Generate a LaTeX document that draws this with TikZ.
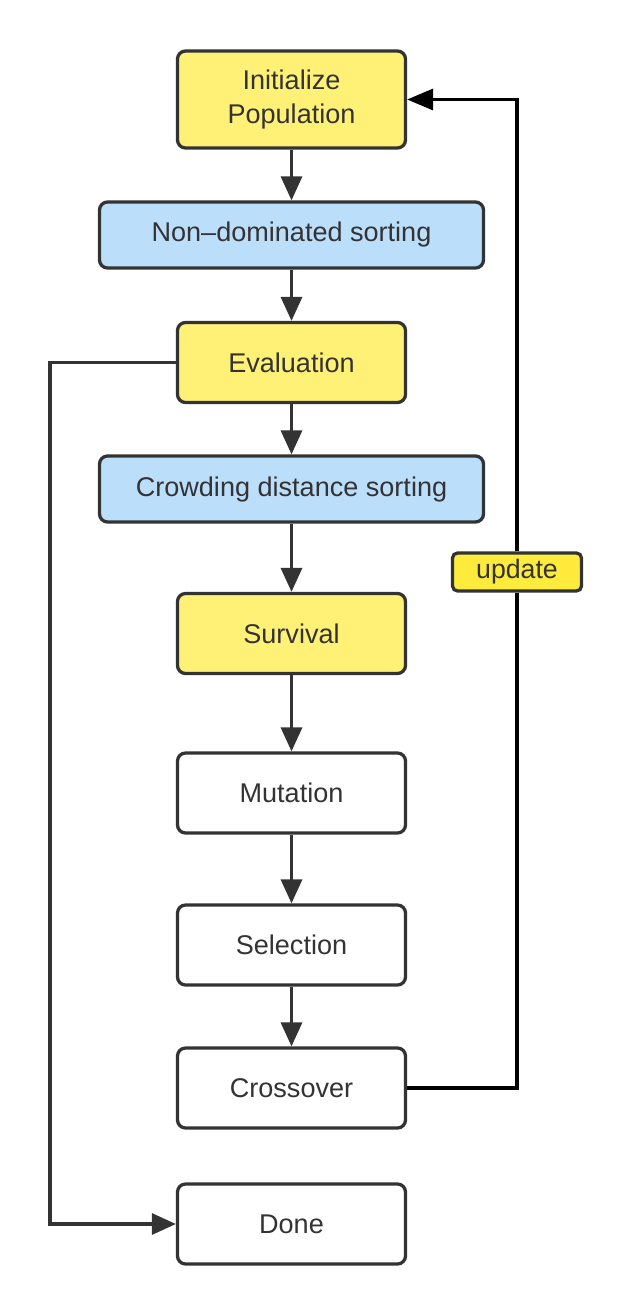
\documentclass[tikz,border=0pt]{standalone}
\usepackage{fontspec}
\setmainfont{Liberation Sans}
\usepackage{xcolor}
\usetikzlibrary{positioning,arrows.meta}

\definecolor{boxline}{HTML}{333333}
\definecolor{stepyellow}{HTML}{FFF176}
\definecolor{stepblue}{HTML}{BBDEFB}
\definecolor{tagyellow}{HTML}{FFEB3B}

\begin{document}
\begin{tikzpicture}[
  stage/.style={rectangle, draw=boxline, line width=0.065cm, rounded corners=0.16cm, align=center, text=boxline, font=\fontsize{15.4}{19}\selectfont, minimum width=4.56cm, minimum height=1.6cm, inner sep=0pt},
  widestage/.style={stage, minimum width=7.68cm, minimum height=1.32cm},
  tag/.style={rectangle, draw=boxline, line width=0.065cm, rounded corners=0.1cm, fill=tagyellow, text=boxline, font=\fontsize{15.2}{19}\selectfont, minimum width=2.58cm, minimum height=0.76cm, inner sep=0pt},
  arrow/.style={-{Triangle[length=0.48cm,width=0.42cm]}, draw=boxline, line width=0.065cm},
  loopline/.style={draw=black, line width=0.065cm},
  looparrow/.style={loopline, -{Triangle[length=0.52cm,width=0.42cm]}}
]
  \useasboundingbox (0,0) rectangle (12.68,-26.3);

  % Main flow
  \node[stage, fill=stepyellow, minimum height=1.94cm] (init) at (5.83,-1.99) {Initialize\\Population};
  \node[widestage, fill=stepblue] (nondom) at (5.83,-4.70) {Non–dominated sorting};
  \node[stage, fill=stepyellow] (eval) at (5.83,-7.25) {Evaluation};
  \node[widestage, fill=stepblue] (crowd) at (5.83,-9.78) {Crowding distance sorting};
  \node[stage, fill=stepyellow] (surv) at (5.83,-12.67) {Survival};
  \node[stage, fill=white] (mut) at (5.83,-15.86) {Mutation};
  \node[stage, fill=white] (sel) at (5.83,-18.90) {Selection};
  \node[stage, fill=white] (cross) at (5.83,-21.76) {Crossover};
  \node[stage, fill=white] (done) at (5.83,-24.48) {Done};

  % Side rails
  \node[tag] (upd) at (10.34,-11.44) {update};
  \coordinate (leftrail) at (1.0,0);

  % Connections
  \draw[arrow] (init) -- (nondom);
  \draw[arrow] (nondom) -- (eval);
  \draw[arrow] (eval) -- (crowd);
  \draw[arrow] (crowd) -- (surv);
  \draw[arrow] (surv) -- (mut);
  \draw[arrow] (mut) -- (sel);
  \draw[arrow] (sel) -- (cross);
  \draw[loopline] (cross.east) -| (upd.south);
  \draw[looparrow] (upd.north) |- (init.east);
  \draw[arrow] (eval.west) -- (eval.west -| leftrail) |- (done.west);
\end{tikzpicture}
\end{document}
